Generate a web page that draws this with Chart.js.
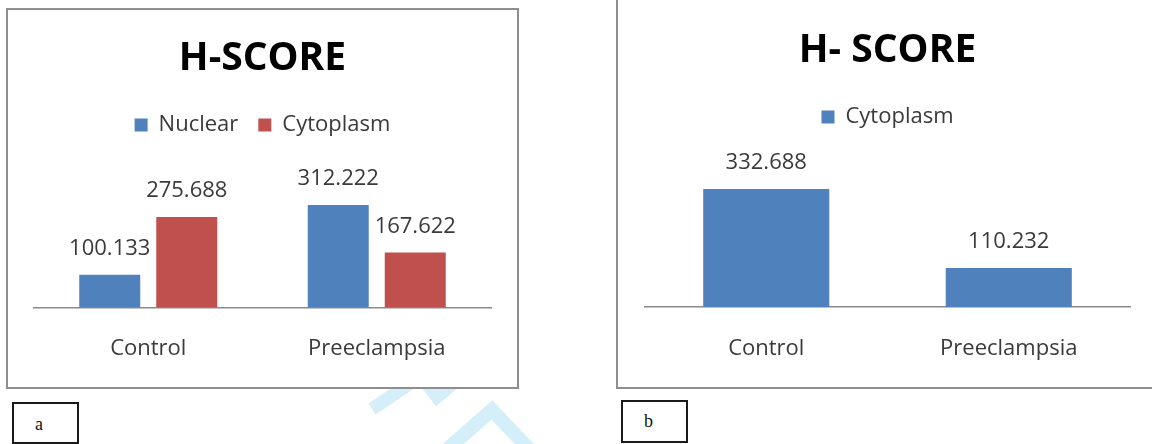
<!DOCTYPE html>
<html>
<head>
<meta charset="utf-8">
<script src="https://cdn.jsdelivr.net/npm/chart.js@4.4.1/dist/chart.umd.min.js"></script>
<style>
  html, body { margin: 0; padding: 0; background: #fff; }
  body { width: 1152px; height: 444px; position: relative; overflow: hidden; }
  .panel { position: absolute; box-sizing: border-box; border: 2px solid #8e8e8e; background: #fff; }
  #panelA { left: 6px; top: 8px; width: 513px; height: 381px; }
  #panelB { left: 616px; top: -10px; width: 600px; height: 399px; }
  canvas { position: absolute; }
  #chartA { left: 8px; top: 10px; }
  #chartB { left: 618px; top: 0px; }
  .tag { position: absolute; box-sizing: border-box; border: 2px solid #1a1a1a; background: #fff;
         font-family: "Liberation Serif", "DejaVu Serif", serif; font-size: 18px; color: #111; }
  #tagA { left: 12px; top: 402px; width: 67px; height: 42px; padding: 10px 0 0 21px; }
  #tagB { left: 621px; top: 400px; width: 67px; height: 43px; padding: 9px 0 0 21px; }
  #mark { position: absolute; left: 0; top: 0; }
</style>
</head>
<body>
<svg id="mark" width="1152" height="444">
  <polyline points="372,409 421,376 437,397 462,376" fill="none" stroke="#d4eefa" stroke-width="13"/>
  <polyline points="444,452 492,410 532,452" fill="none" stroke="#d4eefa" stroke-width="14"/>
</svg>
<div class="panel" id="panelA"></div>
<div class="panel" id="panelB"></div>
<canvas id="chartA" width="509" height="380"></canvas>
<canvas id="chartB" width="534" height="390"></canvas>
<div class="tag" id="tagA">a</div>
<div class="tag" id="tagB">b</div>
<script>
// Group labels shared by both charts
const groups = ['Control', 'Preeclampsia'];

// Chart a: nuclear and cytoplasmic H-score
const nuclearScores = [100.133, 312.222];
const cytoplasmScoresA = [275.688, 167.622];

// Chart b: cytoplasmic H-score
const cytoplasmScoresB = [332.688, 110.232];

const BLUE = '#4f81bd';
const RED = '#c0504d';
const TEXT = '#3a3a3a';

Chart.defaults.font.family = '"Open Sans", "Liberation Sans", sans-serif';
Chart.defaults.color = TEXT;
Chart.defaults.animation = false;

// Prints each bar's value just above it
const valueLabels = {
  id: 'valueLabels',
  afterDatasetsDraw(chart) {
    const ctx = chart.ctx;
    ctx.save();
    ctx.font = '22px "Open Sans", "Liberation Sans", sans-serif';
    ctx.fillStyle = TEXT;
    ctx.textAlign = 'center';
    ctx.textBaseline = 'middle';
    chart.data.datasets.forEach((ds, i) => {
      chart.getDatasetMeta(i).data.forEach((bar, j) => {
        ctx.fillText(ds.data[j].toFixed(3), bar.x, bar.y - 26);
      });
    });
    ctx.restore();
  }
};

function buildOptions(titleText, yMax, pad, titlePad) {
  return {
    responsive: false,
    layout: { padding: pad },
    plugins: {
      title: {
        display: true,
        text: titleText,
        color: '#000',
        font: { size: 39, weight: 'bold' },
        padding: titlePad
      },
      legend: {
        display: true,
        position: 'top',
        labels: {
          boxWidth: 13,
          boxHeight: 13,
          padding: 20,
          color: TEXT,
          font: { size: 22 }
        }
      },
      tooltip: { enabled: false }
    },
    scales: {
      x: {
        grid: { display: false, drawTicks: false },
        border: { display: true, color: '#8a8a8a', width: 1.5 },
        ticks: { padding: 28, color: TEXT, font: { size: 22 } }
      },
      y: {
        display: false,
        min: 0,
        max: yMax
      }
    }
  };
}

new Chart(document.getElementById('chartA'), {
  type: 'bar',
  data: {
    labels: groups,
    datasets: [
      { label: 'Nuclear', data: nuclearScores, backgroundColor: BLUE,
        categoryPercentage: 0.674, barPercentage: 0.792 },
      { label: 'Cytoplasm', data: cytoplasmScoresA, backgroundColor: RED,
        categoryPercentage: 0.674, barPercentage: 0.792 }
    ]
  },
  options: buildOptions('H-SCORE', 492,
    { left: 26, right: 26, top: 0, bottom: 0 },
    { top: 25.6, bottom: 11.6 }),
  plugins: [valueLabels]
});

new Chart(document.getElementById('chartB'), {
  type: 'bar',
  data: {
    labels: groups,
    datasets: [
      { label: 'Cytoplasm', data: cytoplasmScoresB, backgroundColor: BLUE,
        categoryPercentage: 0.8, barPercentage: 0.65 }
    ]
  },
  options: buildOptions('H- SCORE', 476,
    { left: 27, right: 22, top: 0, bottom: 0.4 },
    { top: 27.6, bottom: 11.6 }),
  plugins: [valueLabels]
});
</script>
</body>
</html>
